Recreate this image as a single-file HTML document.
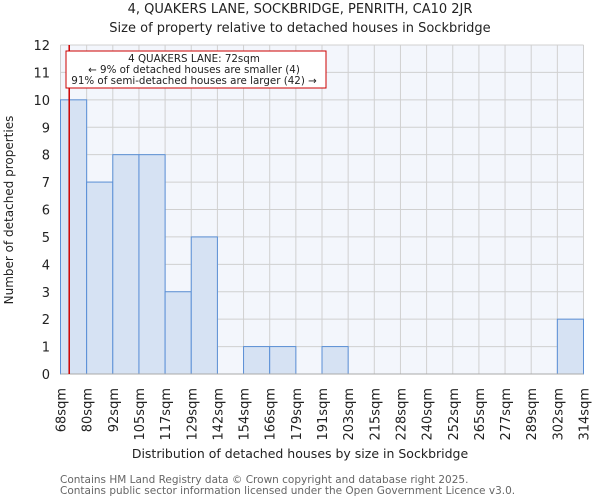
<!DOCTYPE html>
<html><head><meta charset="utf-8"><style>
body{margin:0;background:#fff;font-family:"DejaVu Sans","Liberation Sans",sans-serif;}
svg text{font-family:"DejaVu Sans","Liberation Sans",sans-serif;}
</style></head><body>
<svg width="600" height="500" xmlns="http://www.w3.org/2000/svg">
<text x="300" y="13" text-anchor="middle" font-size="13" fill="#222">4, QUAKERS LANE, SOCKBRIDGE, PENRITH, CA10 2JR</text>
<text x="300" y="32" text-anchor="middle" font-size="13" fill="#222">Size of property relative to detached houses in Sockbridge</text>
<rect x="60.5" y="45" width="523" height="329" fill="#f3f6fc"/>
<g id="grid"></g><g id="bars"></g><g id="yticks"></g><g id="xticks"></g>
<line x1="60.5" y1="374" x2="583.5" y2="374" stroke="#aaa"/>
<line id="marker" y1="45" y2="374" stroke="#cc0000" stroke-width="1.5"/>
<rect x="66" y="51" width="260" height="37" fill="#fff" stroke="#cc0000"/>
<text x="194" y="62" text-anchor="middle" font-size="10.3" fill="#222">4 QUAKERS LANE: 72sqm</text>
<text x="194" y="73" text-anchor="middle" font-size="10.3" fill="#222">← 9% of detached houses are smaller (4)</text>
<text x="194" y="84" text-anchor="middle" font-size="10.3" fill="#222">91% of semi-detached houses are larger (42) →</text>
<text transform="translate(13,210) rotate(-90)" text-anchor="middle" font-size="12" fill="#222">Number of detached properties</text>
<text x="300" y="458" text-anchor="middle" font-size="12.5" fill="#222">Distribution of detached houses by size in Sockbridge</text>
<text x="60" y="483" font-size="10.5" fill="#666">Contains HM Land Registry data © Crown copyright and database right 2025.</text>
<text x="60" y="494" font-size="10.5" fill="#666">Contains public sector information licensed under the Open Government Licence v3.0.</text>
</svg>
<script>
const categories=["68sqm","80sqm","92sqm","105sqm","117sqm","129sqm","142sqm","154sqm","166sqm","179sqm","191sqm","203sqm","215sqm","228sqm","240sqm","252sqm","265sqm","277sqm","289sqm","302sqm","314sqm"];
const counts=[10,7,8,8,3,5,0,1,1,0,1,0,0,0,0,0,0,0,0,2];
const yTicks=[0,1,2,3,4,5,6,7,8,9,10,11,12];
const binEdges=[68,80,92,105,117,129,142,154,166,179,191,203,215,228,240,252,265,277,289,302,314];
const markerValue=72;
const NS="http://www.w3.org/2000/svg";
const L=60.5,R=583.5,T=45,B=374,yMax=12,n=counts.length,bw=(R-L)/n;
const xi=i=>L+i*bw;
const y=v=>B-v/yMax*(B-T);
function xv(v){for(let i=0;i<binEdges.length-1;i++){if(v<=binEdges[i+1])return xi(i)+(v-binEdges[i])/(binEdges[i+1]-binEdges[i])*bw;}return R;}
function mk(t,a){const e=document.createElementNS(NS,t);for(const k in a)e.setAttribute(k,a[k]);return e;}
const g=document.getElementById('grid');
yTicks.forEach(v=>{const l=mk('line',{x1:L,x2:R,y1:y(v),y2:y(v),stroke:'#d0d0d0'});

g.appendChild(l);});
for(let i=0;i<=n;i++){const l=mk('line',{x1:xi(i),x2:xi(i),y1:T,y2:B,stroke:'#d0d0d0'});

g.appendChild(l);}
const bg=document.getElementById('bars');
counts.forEach((c,i)=>{if(c<=0)return;const r=mk('rect',{x:xi(i),y:y(c),width:bw,height:B-y(c),fill:'#d6e2f3',stroke:'#5a8fd6','stroke-width':1});

bg.appendChild(r);});
const yt=document.getElementById('yticks');
yTicks.forEach(v=>{const t=mk('text',{x:50,y:y(v)+5,'text-anchor':'end','font-size':13,fill:'#222'});t.textContent=v;

yt.appendChild(t);});
const xt=document.getElementById('xticks');
categories.forEach((c,i)=>{const x=xi(i);const t=mk('text',{transform:`translate(${x+5},388) rotate(-90)`,'text-anchor':'end','font-size':13,fill:'#222'});t.textContent=c;

xt.appendChild(t);});
const m=document.getElementById('marker');const mx=xv(markerValue);m.setAttribute('x1',mx);m.setAttribute('x2',mx);
</script>
</body></html>
